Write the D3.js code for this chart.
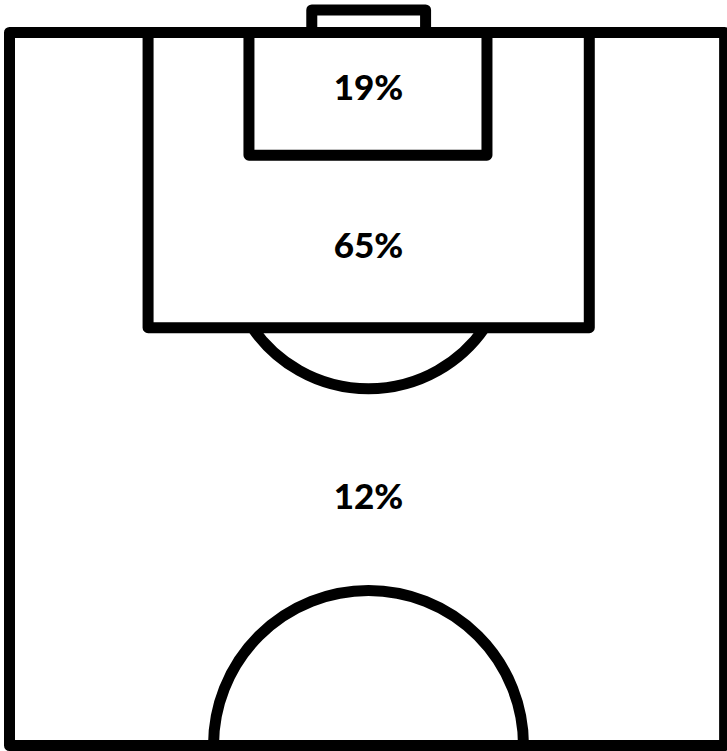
<!DOCTYPE html>
<html>
<head>
<meta charset="utf-8">
<script src="https://cdn.jsdelivr.net/npm/d3@7"></script>
<style>
  html, body { margin: 0; padding: 0; background: #fff; }
  svg { display: block; }
  .line { fill: none; stroke: #000; stroke-width: 11px; stroke-linejoin: round; stroke-linecap: butt; }
  .zone-label { font-family: Lato, "Open Sans", sans-serif; font-weight: 900; font-size: 35px; fill: #000; }
</style>
</head>
<body>
<svg class="pitch"></svg>
<script>
// Set dimensions
var width = 727,
    height = 751;

// Zones of the half pitch and the share of shots from each
var zones = ["Goal area", "Penalty area", "Outside the box"];
var shares = [19, 65, 12];

// Where each label's baseline sits, in pitch units (0 = goal line, 100 = halfway line)
var labelDepth = [9.4, 31.6, 66.8];

// Pitch scales: x across the pitch (-50..50), y from goal line to halfway
var x = d3.scaleLinear()
    .domain([-50, 50])
    .range([9.5, 727.5]);

var y = d3.scaleLinear()
    .domain([0, 100])
    .range([32.5, 745.5]);

var svg = d3.select("svg.pitch")
    .attr("width", width)
    .attr("height", height);

var g = svg.append("g");

// Outer lines (touchlines, goal line, halfway line)
g.append("rect")
    .attr("class", "line")
    .attr("x", x(-50))
    .attr("y", y(0))
    .attr("width", x(49.6) - x(-50))
    .attr("height", y(100) - y(0));

// Goal
g.append("path")
    .attr("class", "line")
    .attr("d", "M" + x(-7.9) + "," + y(0) +
               "V" + (y(0) - 22.5) +
               "H" + x(7.95) +
               "V" + y(0));

// Penalty arc (drawn first so the box line covers the joins)
var arcCenter = y(30.2),
    arcRadius = 141;
var arcPath = d3.path();
var dy = y(41.4) - arcCenter,
    a = Math.acos(dy / arcRadius);
arcPath.arc(x(0), arcCenter, arcRadius, Math.PI / 2 + a, Math.PI / 2 - a, true);
g.append("path")
    .attr("class", "line")
    .attr("d", arcPath.toString());

// Penalty area
g.append("path")
    .attr("class", "line")
    .attr("d", "M" + x(-30.7) + "," + y(0) +
               "V" + y(41.4) +
               "H" + x(30.75) +
               "V" + y(0));

// Goal area
g.append("path")
    .attr("class", "line")
    .attr("d", "M" + x(-16.65) + "," + y(0) +
               "V" + y(17.2) +
               "H" + x(16.5) +
               "V" + y(0));

// Centre circle
var circle = d3.path();
circle.arc(x(0), y(100), 155, Math.PI, 0);
g.append("path")
    .attr("class", "line")
    .attr("d", circle.toString());

// Labels
g.selectAll("text.zone-label")
    .data(zones)
    .enter()
    .append("text")
    .attr("class", "zone-label")
    .attr("x", x(0))
    .attr("y", function(d, i) { return y(labelDepth[i]); })
    .attr("text-anchor", "middle")
    .text(function(d, i) { return shares[i] + "%"; });
</script>
</body>
</html>
